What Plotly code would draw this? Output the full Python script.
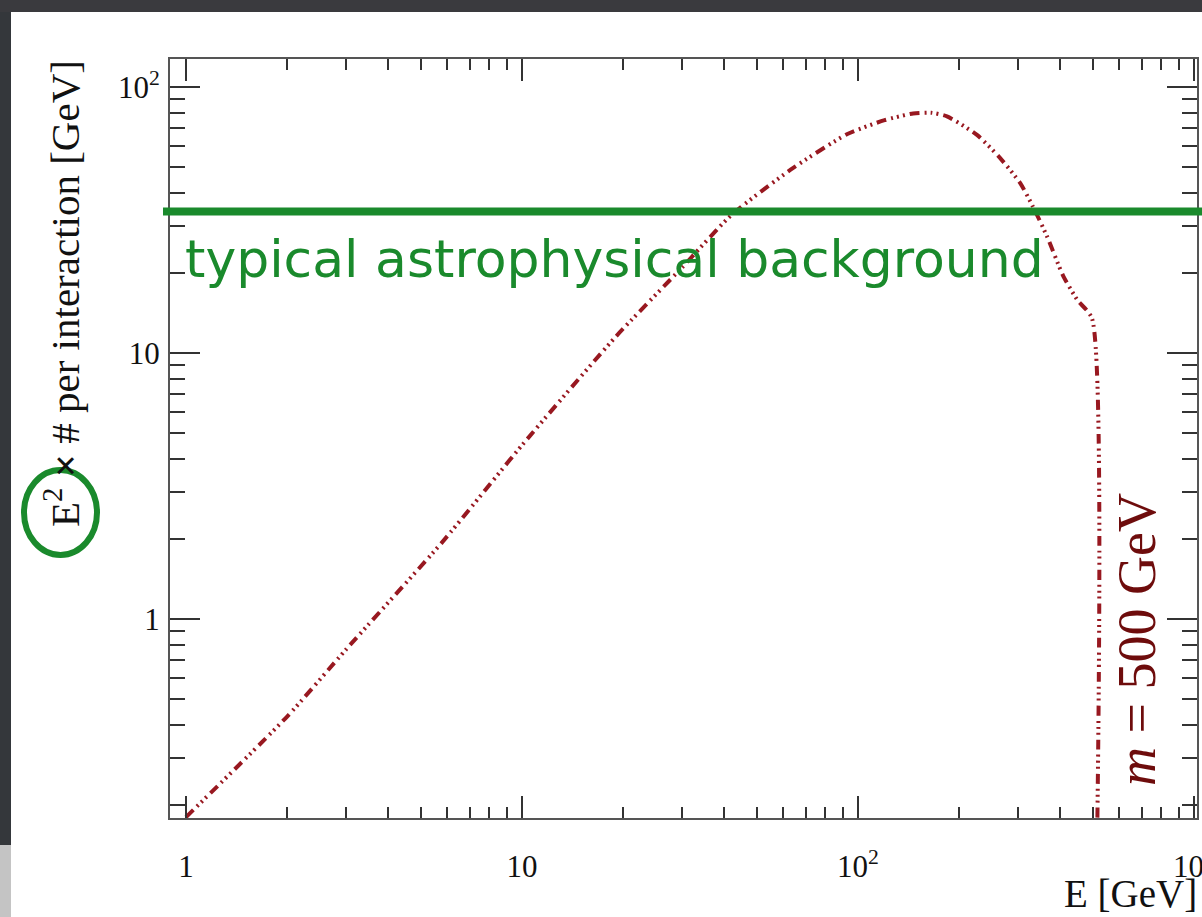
import plotly.graph_objects as go

# Spectrum E^2 dN/dE per interaction for a 500 GeV annihilation
energy_gev = [1, 2, 3, 5.8, 10, 19, 30, 42, 64, 93, 120, 146, 165, 184, 226, 265, 304, 332, 365, 408, 450, 497, 515]
e2_flux = [0.18, 0.43, 0.77, 1.95, 4.5, 11.5, 21.0, 33.0, 49.5, 66.5, 75.0, 79.5, 80.0, 77.5, 66.0, 54.0, 43.5, 35.4, 27.5, 19.5, 15.8, 13.5, 0.15]

background_level = 34.0

x_major = [1, 10, 100, 1000]
x_major_text = ["1", "10", "10<sup>2</sup>", "10<sup>3</sup>"]
x_minor = [m * d for d in (1, 10, 100) for m in range(2, 10)]
y_major = [1, 10, 100]
y_major_text = ["1", "10", "10<sup>2</sup>"]
y_minor = [m * d for d in (0.1, 1, 10) for m in range(2, 10)]

W, H = 1202, 917
ML, MR, MT, MB = 170, 5, 59, 99
PW, PH = W - ML - MR, H - MT - MB


def px(x):
    return (x - ML) / PW


def py(y):
    return (H - MB - y) / PH


RED = "#981820"
GREEN = "#1a8a2c"
SERIF = "Liberation Serif"

fig = go.Figure()
fig.add_trace(go.Scatter(
    x=energy_gev, y=e2_flux, mode="lines",
    line=dict(color=RED, width=4, dash="10px,5px,2px,4px,2px,4px,2px,5px", shape="spline", smoothing=0.6),
    showlegend=False, hoverinfo="skip",
))

axis_common = dict(
    type="log", showgrid=False, zeroline=False, automargin=False,
    showline=True, linecolor="#555", linewidth=2, mirror="allticks",
    ticks="inside", tickcolor="#333", tickwidth=1.5, ticklabeloverflow="allow",
    tickmode="array", tickfont=dict(family=SERIF, size=31, color="#111"),
)

fig.update_xaxes(
    **axis_common, range=[-0.0476, 3.009],
    tickvals=x_major, ticktext=x_major_text, ticklen=22, ticklabelstandoff=20,
    minor=dict(tickmode="array", tickvals=x_minor, ticklen=11, ticks="inside",
               tickcolor="#333", tickwidth=1.5),
)
fig.update_yaxes(
    **axis_common, range=[-0.748, 2.105],
    tickvals=y_major, ticktext=y_major_text, ticklen=30, ticklabelstandoff=2,
    minor=dict(tickmode="array", tickvals=y_minor, ticklen=15, ticks="inside",
               tickcolor="#333", tickwidth=1.5),
)

shapes = [
    # slide frame strips
    dict(type="rect", xref="paper", yref="paper", x0=px(0), x1=px(11), y0=py(845), y1=py(0),
         fillcolor="#34373b", line_width=0, layer="below"),
    dict(type="rect", xref="paper", yref="paper", x0=px(0), x1=px(11), y0=py(917), y1=py(845),
         fillcolor="#c4c4c4", line_width=0, layer="below"),
    dict(type="rect", xref="paper", yref="paper", x0=px(0), x1=px(1202), y0=py(12), y1=py(0),
         fillcolor="#3a3a3e", line_width=0, layer="below"),
    # background level
    dict(type="line", xref="paper", yref="y", x0=px(163), x1=px(1202),
         y0=background_level, y1=background_level, line=dict(color=GREEN, width=8)),
    # highlight on E^2
    dict(type="circle", xref="paper", yref="paper", x0=px(24), x1=px(97), y0=py(555), y1=py(470),
         line=dict(color=GREEN, width=6)),
]

annotations = [
    dict(text="typical astrophysical background", xref="paper", yref="paper",
         x=px(183), y=py(259), xanchor="left", yanchor="middle", showarrow=False,
         font=dict(family="DejaVu Sans", size=52, color=GREEN)),
    dict(text="<i>m</i> = 500 GeV", xref="paper", yref="paper",
         x=px(1137), y=py(640), xanchor="center", yanchor="middle", textangle=-90, showarrow=False,
         font=dict(family=SERIF, size=54, color="#6e0c0c")),
    dict(text="E<sup>2</sup> <b>×</b> # per interaction [GeV]", xref="paper", yref="paper",
         x=px(62), y=py(294), xanchor="center", yanchor="middle", textangle=-90, showarrow=False,
         font=dict(family=SERIF, size=41, color="#111")),
    dict(text="E [GeV]", xref="paper", yref="paper",
         x=px(1199), y=py(893), xanchor="right", yanchor="middle", showarrow=False,
         font=dict(family=SERIF, size=39, color="#111")),
]

fig.update_layout(
    width=W, height=H,
    margin=dict(l=ML, r=MR, t=MT, b=MB, pad=0, autoexpand=False),
    paper_bgcolor="white", plot_bgcolor="white",
    shapes=shapes, annotations=annotations,
    showlegend=False,
)

fig.write_html("out.html")
